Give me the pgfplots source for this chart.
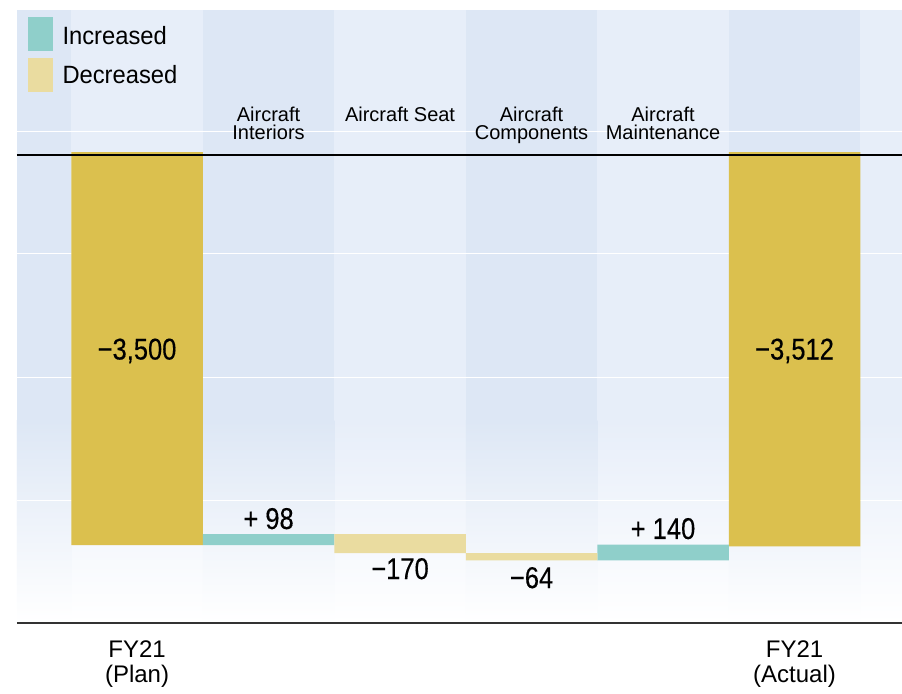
\documentclass[border=0pt]{standalone}
\usepackage{fontspec}
\setmainfont{Liberation Sans}
\newfontfamily\numfont{Liberation Sans}[FakeStretch=0.85, FakeBold=0.35]
\newfontfamily\legfont{Liberation Sans}[FakeStretch=0.95]
\usepackage{pgfplots}
\pgfplotsset{compat=1.18}
\usepackage{pgfplotstable}

\definecolor{gold}{RGB}{219,192,78}
\definecolor{teal2}{RGB}{143,207,202}
\definecolor{paleyel}{RGB}{234,220,160}
\definecolor{banddark}{RGB}{221,231,245}
\definecolor{bandlight}{RGB}{231,238,249}

% waterfall: invisible offset, totals, increases, decreases
\pgfplotstableread{
x offset total inc dec
0 0 -3500 0 0
1 -3402 0 -98 0
2 -3402 0 0 -170
3 -3572 0 0 -64
4 -3496 0 -140 0
5 0 -3512 0 0
}\wf

\begin{document}
\begin{tikzpicture}
\path[use as bounding box] (-8.5pt,-35pt) rectangle (442.5pt,311.5pt);
\begin{axis}[
  scale only axis,
  width=442.5pt, height=306.5pt,
  xmin=-0.913, xmax=5.817,
  ymin=-4194.5, ymax=1264.6,
  ybar stacked, bar width=1,
  reverse stacked plots=false,
  axis line style={draw=none},
  ytick=\empty,
  xtick={0,5},
  xticklabels={{FY21\\(Plan)},{FY21\\(Actual)}},
  xticklabel style={align=center, font=\fontsize{12}{12.5}\selectfont, inner sep=0pt, anchor=north, yshift=-8.5pt},
  major tick length=0pt,
  clip=false,
]
% background bands
\fill[bandlight] (axis cs:-0.913,1264.6) rectangle (axis cs:5.817,-2387);
\shade[top color=bandlight, bottom color=white] (axis cs:-0.913,-2387) rectangle (axis cs:5.817,-4194.5);
\fill[banddark] (axis cs:-0.913,1264.6) rectangle (axis cs:-0.5,-2387);
\shade[top color=banddark, bottom color=white] (axis cs:-0.913,-2387) rectangle (axis cs:-0.5,-4194.5);
\fill[banddark] (axis cs:0.5,1264.6) rectangle (axis cs:1.5,-2387);
\shade[top color=banddark, bottom color=white] (axis cs:0.5,-2387) rectangle (axis cs:1.5,-4194.5);
\fill[banddark] (axis cs:2.5,1264.6) rectangle (axis cs:3.5,-2387);
\shade[top color=banddark, bottom color=white] (axis cs:2.5,-2387) rectangle (axis cs:3.5,-4194.5);
\fill[banddark] (axis cs:4.5,1264.6) rectangle (axis cs:5.5,-2387);
\shade[top color=banddark, bottom color=white] (axis cs:4.5,-2387) rectangle (axis cs:5.5,-4194.5);
\draw[white, line width=0.5pt] (axis cs:-0.913,187) -- (axis cs:5.817,187);
\draw[white, line width=0.5pt] (axis cs:-0.913,-908) -- (axis cs:5.817,-908);
\draw[white, line width=0.5pt] (axis cs:-0.913,-2008) -- (axis cs:5.817,-2008);
\draw[white, line width=0.5pt] (axis cs:-0.913,-3104) -- (axis cs:5.817,-3104);

\addplot[draw=none, fill=none] table[x=x, y=offset] {\wf};
\addplot[draw=none, fill=gold] table[x=x, y=total] {\wf};
\addplot[draw=none, fill=teal2] table[x=x, y=inc] {\wf};
\addplot[draw=none, fill=paleyel] table[x=x, y=dec] {\wf};

% zero line and bottom line
\draw[black, line width=0.6pt] (axis cs:-0.913,-27) -- (axis cs:5.817,-27);
\draw[black!80, line width=0.75pt] (axis cs:-0.913,-4194.5) -- (axis cs:5.817,-4194.5);

% legend
\fill[teal2] (axis cs:-0.829,1202) rectangle (axis cs:-0.639,899);
\fill[paleyel] (axis cs:-0.829,837) rectangle (axis cs:-0.639,537);
\node[anchor=base west, inner sep=0pt, font=\legfont\fontsize{12.5}{15}\selectfont] at (axis cs:-0.570,953) {Increased};
\node[anchor=base west, inner sep=0pt, font=\legfont\fontsize{12.5}{15}\selectfont] at (axis cs:-0.570,614.5) {Decreased};

% category labels
\node[anchor=base, inner sep=0pt, align=center, font=\fontsize{10}{8.75}\selectfont] at (axis cs:1,114) {Aircraft\\Interiors};
\node[anchor=base, inner sep=0pt, align=center, font=\fontsize{10}{8.75}\selectfont] at (axis cs:2,270) {Aircraft Seat};
\node[anchor=base, inner sep=0pt, align=center, font=\fontsize{10}{8.75}\selectfont] at (axis cs:3,114) {Aircraft\\Components};
\node[anchor=base, inner sep=0pt, align=center, font=\fontsize{10}{8.75}\selectfont] at (axis cs:4,114) {Aircraft\\Maintenance};

% value labels
\node[anchor=base, inner sep=0pt, font=\numfont\fontsize{15}{15}\selectfont] at (axis cs:0,-1848) {−3,500};
\node[anchor=base, inner sep=0pt, font=\numfont\fontsize{15}{15}\selectfont] at (axis cs:1,-3357) {+ 98};
\node[anchor=base, inner sep=0pt, font=\numfont\fontsize{15}{15}\selectfont] at (axis cs:2,-3803) {−170};
\node[anchor=base, inner sep=0pt, font=\numfont\fontsize{15}{15}\selectfont] at (axis cs:3,-3883) {−64};
\node[anchor=base, inner sep=0pt, font=\numfont\fontsize{15}{15}\selectfont] at (axis cs:4,-3446) {+ 140};
\node[anchor=base, inner sep=0pt, font=\numfont\fontsize{15}{15}\selectfont] at (axis cs:5,-1848) {−3,512};
\end{axis}
\end{tikzpicture}
\end{document}
